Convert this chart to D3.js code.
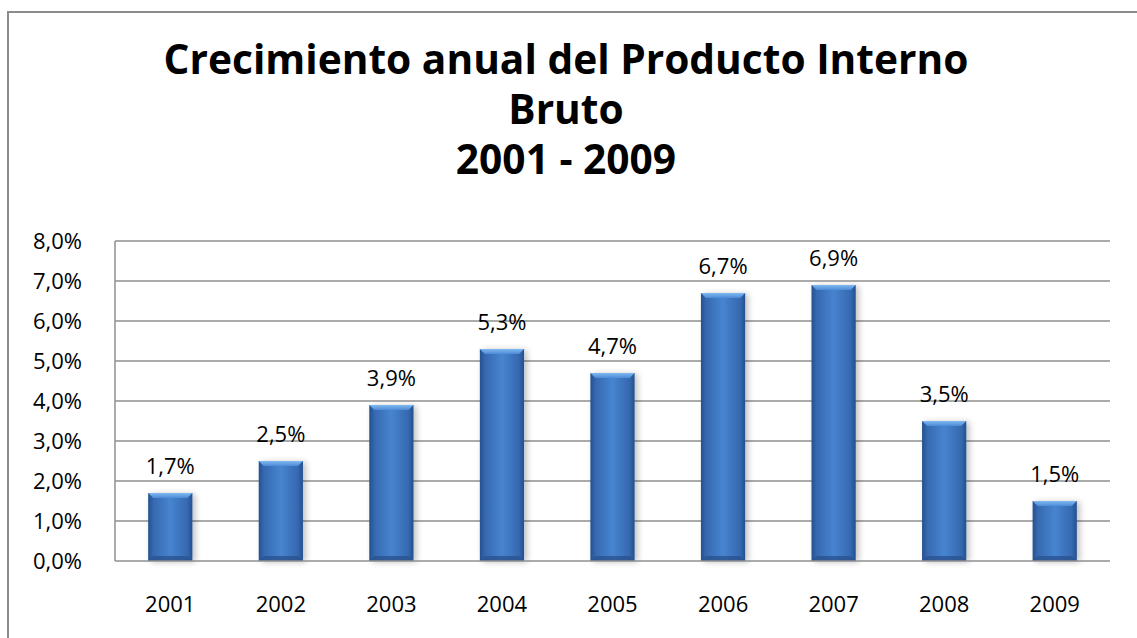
<!DOCTYPE html>
<html>
<head>
<meta charset="utf-8">
<script src="https://cdn.jsdelivr.net/npm/d3@7"></script>
<style>
  body { margin: 0; background: #fff; }
  text { font-family: 'Open Sans', 'Noto Sans', sans-serif; fill: #000; }
</style>
</head>
<body>
<svg id="chart" width="1137" height="638"></svg>
<script>
const years = ['2001', '2002', '2003', '2004', '2005', '2006', '2007', '2008', '2009']
const growth = [1.7, 2.5, 3.9, 5.3, 4.7, 6.7, 6.9, 3.5, 1.5]
const yTicks = [0, 1, 2, 3, 4, 5, 6, 7, 8]
const titleLines = ['Crecimiento anual del Producto Interno', 'Bruto', '2001 - 2009']

const esLocale = d3.formatLocale({ decimal: ',', thousands: '.', grouping: [3], currency: ['', ''] })
const pct = v => esLocale.format('.1f')(v) + '%'

const svg = d3.select('#chart')

// outer chart frame (runs past the right and bottom edges)
svg.append('rect')
  .attr('x', 8).attr('y', 12)
  .attr('width', 1160).attr('height', 660)
  .attr('fill', '#fff')
  .attr('stroke', '#8c8c8c')
  .attr('stroke-width', 2)

// title, sized so the first line fills its width
const title = svg.append('g').attr('font-weight', 'bold').attr('text-anchor', 'middle')
const first = title.append('text').attr('font-size', 40).text(titleLines[0])
const fitSize = 40 * 805 / first.node().getComputedTextLength()
first.remove()
const baselines = [74, 124, 174]
titleLines.forEach((line, i) => {
  title.append('text')
    .attr('x', 566)
    .attr('y', baselines[i])
    .attr('font-size', fitSize)
    .text(line)
})

const margin = { left: 115, right: 1110, top: 241, bottom: 561 }

const x = d3.scaleBand()
  .domain(years)
  .range([margin.left, margin.right])
  .paddingInner(0.6)
  .paddingOuter(0.3)

const y = d3.scaleLinear()
  .domain([0, 8])
  .range([margin.bottom, margin.top])

const defs = svg.append('defs')

const body = defs.append('linearGradient').attr('id', 'barBody')
  .attr('x1', '0%').attr('x2', '100%').attr('y1', '0%').attr('y2', '0%')
body.selectAll('stop')
  .data([[0, '#24508f'], [0.12, '#3669b0'], [0.5, '#4784d0'], [0.88, '#3669b0'], [1, '#24508f']])
  .enter().append('stop')
  .attr('offset', d => d[0])
  .attr('stop-color', d => d[1])

const topBevel = defs.append('linearGradient').attr('id', 'barTop')
  .attr('x1', '0%').attr('x2', '0%').attr('y1', '0%').attr('y2', '100%')
topBevel.append('stop').attr('offset', 0).attr('stop-color', '#80b8f2')
topBevel.append('stop').attr('offset', 1).attr('stop-color', '#4d8bd6')

const shadow = defs.append('filter').attr('id', 'shadow')
  .attr('x', '-30%').attr('y', '-10%').attr('width', '160%').attr('height', '120%')
shadow.append('feGaussianBlur').attr('in', 'SourceAlpha').attr('stdDeviation', 3)
shadow.append('feOffset').attr('dx', 3).attr('dy', 1).attr('result', 'blur')
shadow.append('feComponentTransfer').append('feFuncA').attr('type', 'linear').attr('slope', 0.25)
const merge = shadow.append('feMerge')
merge.append('feMergeNode')
merge.append('feMergeNode').attr('in', 'SourceGraphic')

// gridlines
svg.append('g')
  .selectAll('line')
  .data(yTicks.filter(t => t > 0))
  .enter().append('line')
  .attr('x1', margin.left)
  .attr('x2', margin.right)
  .attr('y1', d => y(d))
  .attr('y2', d => y(d))
  .attr('stroke', '#8f8f8f')
  .attr('stroke-width', 1.5)

// y axis labels
svg.append('g')
  .attr('text-anchor', 'end')
  .attr('font-size', 22)
  .selectAll('text')
  .data(yTicks)
  .enter().append('text')
  .attr('x', margin.left - 33)
  .attr('y', d => y(d))
  .attr('dy', '0.35em')
  .text(pct)

// bars
const bw = x.bandwidth()
const bevel = 5
const bars = svg.append('g')
  .selectAll('g')
  .data(growth)
  .enter().append('g')
  .attr('transform', (d, i) => `translate(${x(years[i])},${y(d)})`)

bars.append('rect')
  .attr('width', bw)
  .attr('height', d => y(0) - y(d))
  .attr('fill', 'url(#barBody)')
  .attr('filter', 'url(#shadow)')

bars.append('path')
  .attr('d', `M0,0 L${bw},0 L${bw - bevel},${bevel} L${bevel},${bevel} Z`)
  .attr('fill', 'url(#barTop)')

bars.append('path')
  .attr('d', d => {
    const h = y(0) - y(d)
    return `M0,${h} L${bw},${h} L${bw - bevel},${h - bevel} L${bevel},${h - bevel} Z`
  })
  .attr('fill', '#2b5390')
  .attr('opacity', 0.8)

// axes lines
svg.append('line')
  .attr('x1', margin.left).attr('x2', margin.left)
  .attr('y1', y(8)).attr('y2', y(0))
  .attr('stroke', '#8f8f8f').attr('stroke-width', 1.5)
svg.append('line')
  .attr('x1', margin.left).attr('x2', margin.right)
  .attr('y1', y(0)).attr('y2', y(0))
  .attr('stroke', '#8f8f8f').attr('stroke-width', 1.5)

// value labels
svg.append('g')
  .attr('text-anchor', 'middle')
  .attr('font-size', 22)
  .selectAll('text')
  .data(growth)
  .enter().append('text')
  .attr('x', (d, i) => x(years[i]) + bw / 2)
  .attr('y', d => y(d) - 19)
  .text(pct)

// x axis labels
svg.append('g')
  .attr('text-anchor', 'middle')
  .attr('font-size', 22)
  .selectAll('text')
  .data(years)
  .enter().append('text')
  .attr('x', d => x(d) + bw / 2)
  .attr('y', 612)
  .text(d => d)
</script>
</body>
</html>
